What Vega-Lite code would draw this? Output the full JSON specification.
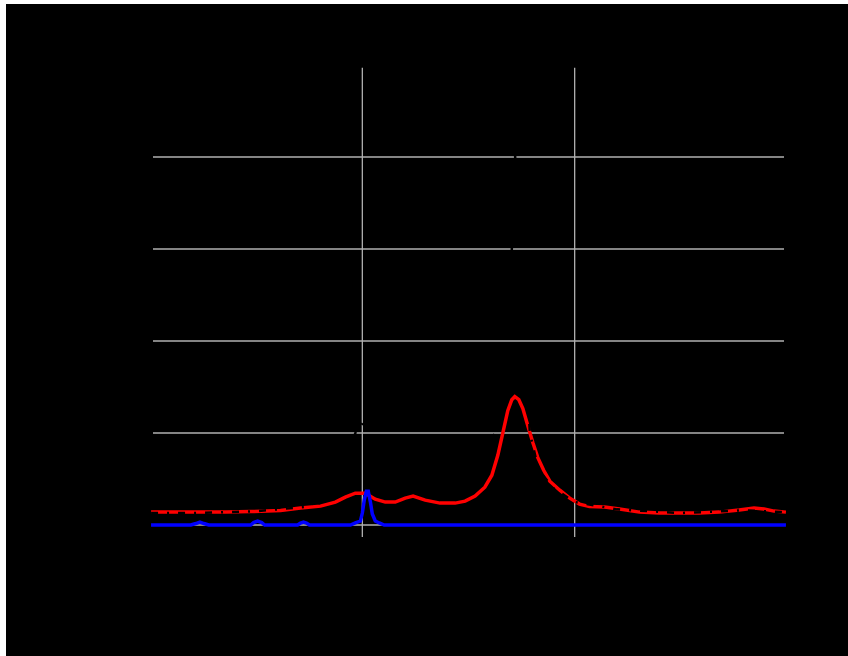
{
  "$schema": "https://vega.github.io/schema/vega-lite/v6.json",
  "autosize": {"type": "none"},
  "width": 842,
  "height": 652,
  "padding": {"left": 6, "top": 4, "right": 0, "bottom": 0},
  "background": "white",
  "config": {
    "view": {"fill": "black", "stroke": null},
    "axis": {"grid": false, "domain": false, "ticks": false, "labelColor": "black", "titleColor": "black", "labelFontSize": 14, "titleFontSize": 16, "titleFontWeight": "normal"}
  },
  "datasets": {
    "measured": [
      {"x": 1.005, "y": 0.14}, {"x": 1.122, "y": 0.14}, {"x": 1.239, "y": 0.14}, {"x": 1.357, "y": 0.14},
      {"x": 1.474, "y": 0.146}, {"x": 1.615, "y": 0.157}, {"x": 1.709, "y": 0.184}, {"x": 1.803, "y": 0.205},
      {"x": 1.873, "y": 0.249}, {"x": 1.92, "y": 0.303}, {"x": 1.967, "y": 0.346}, {"x": 2.014, "y": 0.346},
      {"x": 2.061, "y": 0.281}, {"x": 2.108, "y": 0.249}, {"x": 2.155, "y": 0.249}, {"x": 2.202, "y": 0.292},
      {"x": 2.239, "y": 0.314}, {"x": 2.296, "y": 0.27}, {"x": 2.366, "y": 0.238}, {"x": 2.437, "y": 0.238},
      {"x": 2.484, "y": 0.259}, {"x": 2.531, "y": 0.314}, {"x": 2.577, "y": 0.411}, {"x": 2.61, "y": 0.541},
      {"x": 2.638, "y": 0.757}, {"x": 2.662, "y": 1.005}, {"x": 2.685, "y": 1.243}, {"x": 2.704, "y": 1.362},
      {"x": 2.718, "y": 1.395}, {"x": 2.737, "y": 1.362}, {"x": 2.756, "y": 1.265}, {"x": 2.779, "y": 1.081},
      {"x": 2.803, "y": 0.897}, {"x": 2.826, "y": 0.735}, {"x": 2.854, "y": 0.595}, {"x": 2.883, "y": 0.476},
      {"x": 2.93, "y": 0.378}, {"x": 2.977, "y": 0.292}, {"x": 3.023, "y": 0.227}, {"x": 3.07, "y": 0.2},
      {"x": 3.141, "y": 0.195}, {"x": 3.211, "y": 0.173}, {"x": 3.305, "y": 0.14}, {"x": 3.399, "y": 0.13},
      {"x": 3.493, "y": 0.13}, {"x": 3.587, "y": 0.13}, {"x": 3.681, "y": 0.14}, {"x": 3.775, "y": 0.162},
      {"x": 3.845, "y": 0.184}, {"x": 3.892, "y": 0.173}, {"x": 3.939, "y": 0.151}, {"x": 3.995, "y": 0.14}
    ],
    "model": [
      {"x": 1.005, "y": 0.13}, {"x": 1.2, "y": 0.13}, {"x": 1.5, "y": 0.15}, {"x": 1.75, "y": 0.2},
      {"x": 1.9, "y": 0.5}, {"x": 1.967, "y": 1.0}, {"x": 2.05, "y": 1.25}, {"x": 2.12, "y": 1.3},
      {"x": 2.2, "y": 1.2}, {"x": 2.26, "y": 1.0}, {"x": 2.35, "y": 0.6}, {"x": 2.45, "y": 0.45},
      {"x": 2.55, "y": 0.6}, {"x": 2.6, "y": 0.85}, {"x": 2.624, "y": 1.0}, {"x": 2.676, "y": 2.0},
      {"x": 2.704, "y": 3.0}, {"x": 2.718, "y": 4.08}, {"x": 2.742, "y": 3.0}, {"x": 2.765, "y": 2.0},
      {"x": 2.789, "y": 1.0}, {"x": 2.83, "y": 0.6}, {"x": 2.9, "y": 0.4}, {"x": 3.0, "y": 0.25},
      {"x": 3.2, "y": 0.17}, {"x": 3.5, "y": 0.13}, {"x": 3.8, "y": 0.16}, {"x": 3.995, "y": 0.14}
    ],
    "reference": [
      {"x": 1.005, "y": 0}, {"x": 1.192, "y": 0}, {"x": 1.216, "y": 0.016}, {"x": 1.235, "y": 0.032},
      {"x": 1.254, "y": 0.016}, {"x": 1.277, "y": 0}, {"x": 1.474, "y": 0}, {"x": 1.488, "y": 0.027},
      {"x": 1.507, "y": 0.043}, {"x": 1.526, "y": 0.027}, {"x": 1.54, "y": 0}, {"x": 1.695, "y": 0},
      {"x": 1.709, "y": 0.022}, {"x": 1.723, "y": 0.032}, {"x": 1.737, "y": 0.022}, {"x": 1.751, "y": 0},
      {"x": 1.944, "y": 0}, {"x": 1.967, "y": 0.022}, {"x": 1.991, "y": 0.043}, {"x": 2.0, "y": 0.13},
      {"x": 2.009, "y": 0.27}, {"x": 2.019, "y": 0.368}, {"x": 2.028, "y": 0.368}, {"x": 2.038, "y": 0.249},
      {"x": 2.047, "y": 0.119}, {"x": 2.061, "y": 0.043}, {"x": 2.08, "y": 0.022}, {"x": 2.103, "y": 0},
      {"x": 3.995, "y": 0}
    ],
    "hgrid": [
      {"y": 0, "x0": 1.014, "x1": 3.986}, {"y": 1, "x0": 1.014, "x1": 3.986},
      {"y": 2, "x0": 1.014, "x1": 3.986}, {"y": 3, "x0": 1.014, "x1": 3.986},
      {"y": 4, "x0": 1.014, "x1": 3.986}
    ],
    "vgrid": [
      {"x": 2, "y0": -0.13, "y1": 4.97}, {"x": 3, "y0": -0.13, "y1": 4.97}
    ]
  },
  "layer": [
    {
      "data": {"name": "hgrid"},
      "mark": {"type": "rule", "color": "#b0b0b0", "strokeWidth": 1.3, "clip": false},
      "encoding": {
        "y": {"field": "y", "type": "quantitative", "scale": {"domain": [0, 4.97], "range": [521, 61]}, "axis": {"title": "Intensity (arb. units)", "values": [0, 1, 2, 3, 4], "offset": -140}},
        "x": {"field": "x0", "type": "quantitative", "scale": {"domain": [1.005, 3.995], "range": [144, 781]}, "axis": {"title": "Photon energy (eV)", "values": [2, 3], "offset": -145}},
        "x2": {"field": "x1"}
      }
    },
    {
      "data": {"name": "vgrid"},
      "mark": {"type": "rule", "color": "#b0b0b0", "strokeWidth": 1.3, "clip": false},
      "encoding": {
        "x": {"field": "x", "type": "quantitative"},
        "y": {"field": "y0", "type": "quantitative"},
        "y2": {"field": "y1"}
      }
    },
    {
      "data": {"name": "measured"},
      "mark": {"type": "line", "color": "#ff0000", "strokeWidth": 3.5},
      "encoding": {
        "x": {"field": "x", "type": "quantitative"},
        "y": {"field": "y", "type": "quantitative"}
      }
    },
    {
      "data": {"name": "model"},
      "mark": {"type": "line", "color": "black", "strokeWidth": 2.5, "strokeDash": [7, 9, 2, 9]},
      "encoding": {
        "x": {"field": "x", "type": "quantitative"},
        "y": {"field": "y", "type": "quantitative"}
      }
    },
    {
      "data": {"name": "reference"},
      "mark": {"type": "line", "color": "#0000ff", "strokeWidth": 3.5},
      "encoding": {
        "x": {"field": "x", "type": "quantitative"},
        "y": {"field": "y", "type": "quantitative"}
      }
    }
  ]
}
